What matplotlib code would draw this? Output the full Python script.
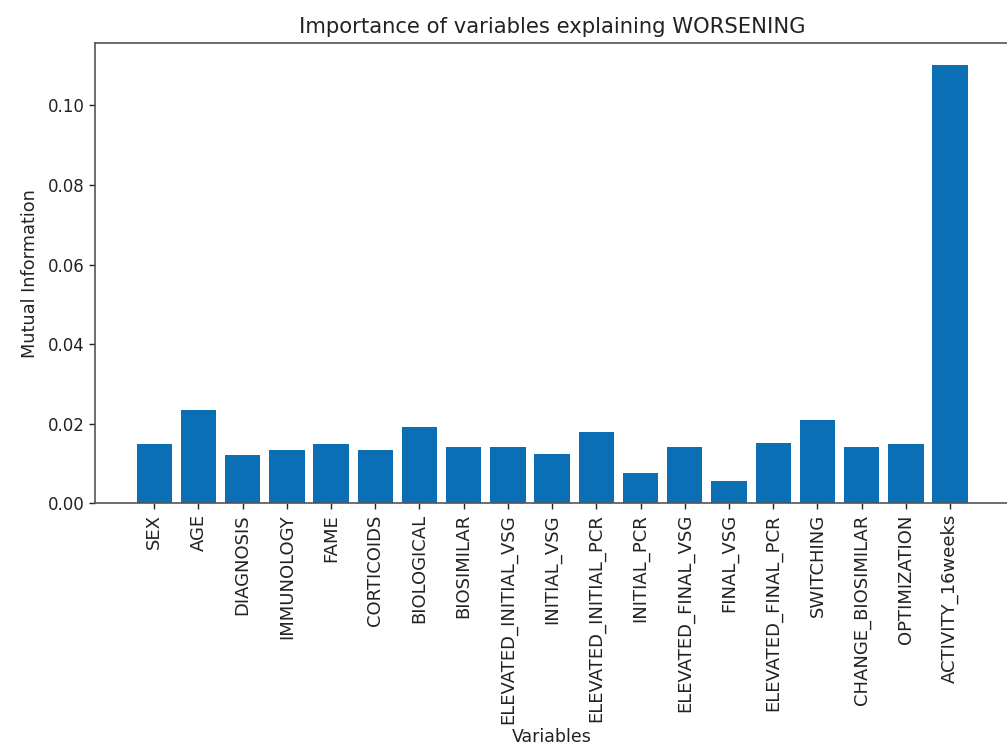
import matplotlib
matplotlib.use("Agg")
import matplotlib.pyplot as plt

variables = ["SEX", "AGE", "DIAGNOSIS", "IMMUNOLOGY", "FAME", "CORTICOIDS",
             "BIOLOGICAL", "BIOSIMILAR", "ELEVATED_INITIAL_VSG", "INITIAL_VSG",
             "ELEVATED_INITIAL_PCR", "INITIAL_PCR", "ELEVATED_FINAL_VSG",
             "FINAL_VSG", "ELEVATED_FINAL_PCR", "SWITCHING", "CHANGE_BIOSIMILAR",
             "OPTIMIZATION", "ACTIVITY_16weeks"]
mutual_info = [0.0149, 0.0234, 0.0121, 0.0135, 0.0149, 0.0135,
               0.0192, 0.0143, 0.0143, 0.0124,
               0.0179, 0.0076, 0.0143,
               0.0057, 0.0153, 0.0210, 0.0143,
               0.0149, 0.1102]

fig = plt.figure(figsize=(10.07, 7.5), dpi=100)
ax = fig.add_axes([0.0943, 0.3287, 0.908, 0.614])
ax.bar(variables, mutual_info, color="#0b6fb6")
ax.set_title("Importance of variables explaining WORSENING", fontsize=15.2, pad=7,
             color="#222222")
ax.set_xlabel("Variables", fontsize=12.5, labelpad=3, color="#222222")
ax.set_ylabel("Mutual Information", fontsize=12.8, labelpad=6, color="#222222")
ax.tick_params(axis="y", labelsize=12, length=4.2, width=1, colors="#222222")
ax.tick_params(axis="x", labelsize=13, length=4.2, width=1, colors="#222222",
               rotation=90)
for s in ax.spines.values():
    s.set_linewidth(1.2)
    s.set_color("#555555")
fig.savefig("out.png", dpi=100)
